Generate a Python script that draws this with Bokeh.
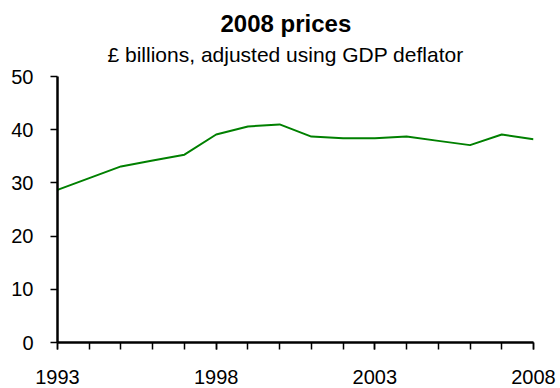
from bokeh.plotting import figure
from bokeh.models import Range1d, FixedTicker, Title
from bokeh.embed import file_html
from bokeh.resources import INLINE

years = list(range(1993, 2009))
values = [28.7, 30.9, 33.1, 34.2, 35.3, 39.1, 40.6, 41.0, 38.7, 38.4, 38.4, 38.7, 37.9, 37.1, 39.1, 38.2]
x_labeled_ticks = [1993, 1998, 2003, 2008]
y_ticks = [0, 10, 20, 30, 40, 50]
title_text = "2008 prices"
subtitle_text = "£ billions, adjusted using GDP deflator"

FONT = "Liberation Sans"

p = figure(width=560, height=388, output_backend="svg", toolbar_location=None,
           x_range=Range1d(1993, 2008), y_range=Range1d(0, 50),
           min_border_left=57, min_border_right=27, min_border_bottom=46, min_border_top=76)
p.outline_line_color = None
p.xgrid.visible = False
p.ygrid.visible = False
p.background_fill_color = "white"
p.border_fill_color = "white"

p.add_layout(Title(text=subtitle_text, align="left", text_font=FONT, text_font_size="21px",
                   text_font_style="normal", text_color="black", offset=50, standoff=21), "above")
p.add_layout(Title(text=title_text, align="left", text_font=FONT, text_font_size="24px",
                   text_font_style="bold", text_color="black", offset=163, standoff=-12), "above")

p.line(years, values, line_color="#008000", line_width=2)

p.xaxis.ticker = FixedTicker(ticks=x_labeled_ticks, minor_ticks=years)
p.yaxis.ticker = FixedTicker(ticks=y_ticks)
for ax in (p.xaxis, p.yaxis):
    ax.axis_line_color = "black"
    ax.axis_line_width = 2.5
    ax.major_tick_line_color = "black"
    ax.major_tick_line_width = 1.5
    ax.major_tick_in = 0
    ax.major_tick_out = 7
    ax.minor_tick_line_color = "black"
    ax.minor_tick_line_width = 1.5
    ax.minor_tick_in = 0
    ax.minor_tick_out = 7
    ax.major_label_text_font = FONT
    ax.major_label_text_font_size = "20px"
    ax.major_label_text_color = "black"
p.yaxis.major_label_standoff = 17
p.xaxis.major_label_standoff = 20

open("out.html", "w").write(file_html(p, INLINE))
